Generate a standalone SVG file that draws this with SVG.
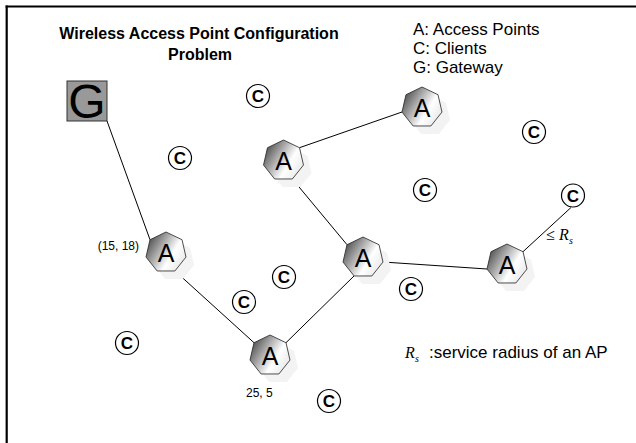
<svg xmlns="http://www.w3.org/2000/svg" xmlns:xlink="http://www.w3.org/1999/xlink" width="636" height="443" viewBox="0 0 636 443">
<style>
.lbl{font-family:"Liberation Sans",Arial,sans-serif;fill:#000}
.title{font-size:16px;font-weight:bold;text-anchor:middle}
.leg{font-size:17px}
.small{font-size:12px}
.aTxt{font-size:25px;text-anchor:middle}
.cTxt{font-size:17px;font-weight:bold;text-anchor:middle}
.math{font-family:"Liberation Serif","Times New Roman",serif;font-style:italic;fill:#000}
.edge{stroke:#000;stroke-width:1;fill:none}
.client{fill:#fff;stroke:#000;stroke-width:1.2}
</style>
<defs>
<linearGradient id="hg" x1="0" y1="0.2" x2="1" y2="0.8">
<stop offset="0" stop-color="#444"/>
<stop offset="0.65" stop-color="#fff"/>
<stop offset="1" stop-color="#e6e6e6"/>
</linearGradient>
<polygon id="hep" points="0,-20.5 16.03,-12.78 19.99,4.56 8.89,18.47 -8.89,18.47 -19.99,4.56 -16.03,-12.78"/>
</defs>
<rect width="636" height="443" fill="#fff"/>
<g id="frame" stroke="#000" stroke-width="2.2">
<line x1="5.6" y1="6.5" x2="636" y2="6.5"/>
<line x1="6.7" y1="5.4" x2="6.7" y2="443"/>
</g>
<g id="title" class="lbl">
<text class="lbl title" x="199" y="39">Wireless Access Point Configuration</text>
<text class="lbl title" x="200" y="60">Problem</text>
</g>
<g id="legend">
<text class="lbl leg" x="413" y="35">A: Access Points</text>
<text class="lbl leg" x="413" y="54">C: Clients</text>
<text class="lbl leg" x="413" y="73">G: Gateway</text>
</g>
<g id="connectors">
<line class="edge" x1="107" y1="121" x2="150" y2="239.7"/>
<line class="edge" x1="175" y1="271" x2="254" y2="342.7"/>
<line class="edge" x1="286" y1="342.7" x2="354" y2="276"/>
<line class="edge" x1="292.4" y1="179" x2="347" y2="244.7"/>
<line class="edge" x1="299.5" y1="147.7" x2="402" y2="112"/>
<line class="edge" x1="383" y1="262" x2="487" y2="269"/>
<line class="edge" x1="523" y1="251.7" x2="571" y2="207.5" stroke-width="1.8"/>
</g>
<g id="shadows" fill="#f3f3f3">
<use xlink:href="#hep" href="#hep" transform="translate(174,260.5)"/>
<use xlink:href="#hep" href="#hep" transform="translate(291.5,168.5)"/>
<use xlink:href="#hep" href="#hep" transform="translate(430,115.5)"/>
<use xlink:href="#hep" href="#hep" transform="translate(371,265.5)"/>
<use xlink:href="#hep" href="#hep" transform="translate(515,272.5)"/>
<use xlink:href="#hep" href="#hep" transform="translate(278,363.5)"/>
</g>
<g id="G">
<rect x="67" y="81" width="40" height="40" fill="#999" stroke="#333" stroke-width="1"/>
<text class="lbl" x="87" y="118" font-size="48" text-anchor="middle">G</text>
</g>
<g id="A1" transform="translate(166,252.5)">
<use xlink:href="#hep" href="#hep" fill="url(#hg)" stroke="#222" stroke-width="0.8"/>
<text class="lbl aTxt" x="0" y="9">A</text>
</g>
<g id="A2" transform="translate(283.5,160.5)">
<use xlink:href="#hep" href="#hep" fill="url(#hg)" stroke="#222" stroke-width="0.8"/>
<text class="lbl aTxt" x="0" y="9">A</text>
</g>
<g id="A3" transform="translate(422,107.5)">
<use xlink:href="#hep" href="#hep" fill="url(#hg)" stroke="#222" stroke-width="0.8"/>
<text class="lbl aTxt" x="0" y="9">A</text>
</g>
<g id="A4" transform="translate(363,257.5)">
<use xlink:href="#hep" href="#hep" fill="url(#hg)" stroke="#222" stroke-width="0.8"/>
<text class="lbl aTxt" x="0" y="9">A</text>
</g>
<g id="A5" transform="translate(507,264.5)">
<use xlink:href="#hep" href="#hep" fill="url(#hg)" stroke="#222" stroke-width="0.8"/>
<text class="lbl aTxt" x="0" y="9">A</text>
</g>
<g id="A6" transform="translate(270,355.5)">
<use xlink:href="#hep" href="#hep" fill="url(#hg)" stroke="#222" stroke-width="0.8"/>
<text class="lbl aTxt" x="0" y="9">A</text>
</g>
<g id="C1" transform="translate(258,96)"><circle class="client" r="11.5"/><text class="lbl cTxt" y="6">C</text></g>
<g id="C2" transform="translate(180,158)"><circle class="client" r="11.5"/><text class="lbl cTxt" y="6">C</text></g>
<g id="C3" transform="translate(534,132)"><circle class="client" r="11.5"/><text class="lbl cTxt" y="6">C</text></g>
<g id="C4" transform="translate(425,190)"><circle class="client" r="11.5"/><text class="lbl cTxt" y="6">C</text></g>
<g id="C5" transform="translate(573,195.5)"><circle class="client" r="11.5"/><text class="lbl cTxt" y="6">C</text></g>
<g id="C6" transform="translate(284,277)"><circle class="client" r="11.5"/><text class="lbl cTxt" y="6">C</text></g>
<g id="C7" transform="translate(244,302)"><circle class="client" r="11.5"/><text class="lbl cTxt" y="6">C</text></g>
<g id="C8" transform="translate(411,289)"><circle class="client" r="11.5"/><text class="lbl cTxt" y="6">C</text></g>
<g id="C9" transform="translate(127,343)"><circle class="client" r="11.5"/><text class="lbl cTxt" y="6">C</text></g>
<g id="C10" transform="translate(329,401)"><circle class="client" r="11.5"/><text class="lbl cTxt" y="6">C</text></g>
<g id="labels">
<text class="lbl small" x="139" y="250" text-anchor="end">(15, 18)</text>
<text class="lbl small" x="246" y="397">25, 5</text>
<text class="math" x="546" y="240" font-size="16" font-style="normal">≤</text>
<text class="math" x="559" y="240" font-size="16">R</text>
<text class="math" x="569" y="244" font-size="10">s</text>
<text class="math" x="405" y="358" font-size="16">R</text>
<text class="math" x="415" y="362" font-size="10">s</text>
<text class="lbl leg" x="429" y="358">:service radius of an AP</text>
</g>
</svg>
